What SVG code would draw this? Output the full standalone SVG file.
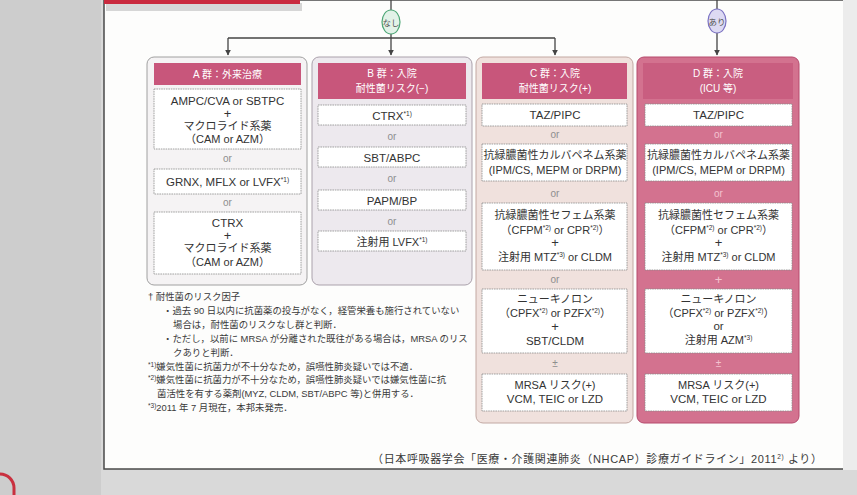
<svg xmlns="http://www.w3.org/2000/svg" width="857" height="495" viewBox="0 0 857 495">
<defs>
<style>
.t{font-family:"Liberation Sans","Noto Sans CJK JP",sans-serif;font-size:11.5px;fill:#333;text-anchor:middle}
.j{font-size:11px}
.h{fill:#fff;font-size:10px}
.or{fill:#8e8e8e;font-size:10px}
.orD{fill:#f3c3d0;font-size:10px}
.pl{font-size:13px}
.sup{font-size:6.5px}
.fn{font-family:"Liberation Sans","Noto Sans CJK JP",sans-serif;font-size:9.4px;fill:#3a3a3a;text-anchor:start}
.box{fill:#fff;stroke:#8a8a8a;stroke-width:0.8;stroke-dasharray:1.6 0.8}
.hdr{fill:#c8567b}
.conn{stroke:#444;stroke-width:1.3;fill:none}
</style>
<marker id="ah" viewBox="0 0 10 10" refX="9" refY="5" markerWidth="6" markerHeight="6" orient="auto" markerUnits="userSpaceOnUse">
<path d="M0,0 L10,5 L0,10 z" fill="#444"/>
</marker>
</defs>

<!-- background / page -->
<rect x="0" y="0" width="857" height="495" fill="#d9d9d9"/>
<rect x="0" y="0" width="101" height="495" fill="#cdcdcd"/>
<rect x="104" y="0" width="740" height="469" fill="#fdfdfc" stroke="#4a4a4a" stroke-width="1.5"/>
<rect x="843" y="0" width="14" height="470" fill="#ececec"/>
<rect x="106" y="3" width="196" height="8" fill="#bdbdbd" opacity="0.6"/>
<rect x="104" y="-2" width="196" height="6" fill="#c92a3e"/>
<path d="M0,474 A14,14 0 0 1 14,488 L14,495" fill="none" stroke="#c9303f" stroke-width="3"/>

<!-- connectors -->
<g id="connectors">
<line class="conn" x1="391" y1="0" x2="391" y2="10"/>
<line class="conn" x1="391" y1="34" x2="391" y2="38"/>
<line class="conn" x1="228" y1="38" x2="555" y2="38"/>
<line class="conn" x1="228" y1="38" x2="228" y2="55" marker-end="url(#ah)"/>
<line class="conn" x1="391" y1="38" x2="391" y2="55" marker-end="url(#ah)"/>
<line class="conn" x1="555" y1="38" x2="555" y2="55" marker-end="url(#ah)"/>
<line class="conn" x1="717" y1="0" x2="717" y2="9"/>
<line class="conn" x1="717" y1="33" x2="717" y2="55" marker-end="url(#ah)"/>
</g>

<g id="nashi">
<ellipse cx="391" cy="22" rx="9" ry="12" fill="#e2f2e8" stroke="#4ea776" stroke-width="1.2"/>
<text class="t" x="391" y="25.5" style="font-size:8.5px;fill:#555">なし</text>
</g>
<g id="ari">
<ellipse cx="717" cy="21" rx="9" ry="12" fill="#dddaf3" stroke="#7b72c2" stroke-width="1.2"/>
<text class="t" x="717" y="24.5" style="font-size:8.5px;fill:#555">あり</text>
</g>

<!-- Column A -->
<g id="groupA">
<rect x="147" y="57" width="160" height="228" rx="7" fill="#f5f3f4" stroke="#a0a0a0" stroke-width="1"/>
<rect class="hdr" x="154" y="63" width="147" height="22"/>
<text class="t h" x="227.5" y="78">A 群：外来治療</text>
<rect class="box" x="154" y="89" width="147" height="60"/>
<text class="t" x="227.5" y="105">AMPC/CVA or SBTPC</text>
<text class="t pl" x="227.5" y="118">+</text>
<text class="t j" x="227.5" y="130">マクロライド系薬</text>
<text class="t j" x="227.5" y="143">（CAM or AZM）</text>
<text class="t or" x="227.5" y="162">or</text>
<rect class="box" x="154" y="169" width="147" height="25"/>
<text class="t" x="227.5" y="186">GRNX, MFLX or LVFX<tspan class="sup" dy="-4">*1)</tspan></text>
<text class="t or" x="227.5" y="206">or</text>
<rect class="box" x="154" y="212" width="147" height="62"/>
<text class="t" x="227.5" y="227">CTRX</text>
<text class="t pl" x="227.5" y="240">+</text>
<text class="t j" x="227.5" y="252">マクロライド系薬</text>
<text class="t j" x="227.5" y="266">（CAM or AZM）</text>
</g>

<!-- Column B -->
<g id="groupB">
<rect x="312" y="57" width="160" height="228" rx="7" fill="#ede9ee" stroke="#aaa1ab" stroke-width="1"/>
<rect class="hdr" x="318" y="63" width="148" height="36"/>
<text class="t h" x="392" y="77">B 群：入院</text>
<text class="t h" x="392" y="92">耐性菌リスク(−)</text>
<rect class="box" x="318" y="105" width="148" height="20"/>
<text class="t" x="392" y="119.5">CTRX<tspan class="sup" dy="-4">*1)</tspan></text>
<text class="t or" x="392" y="140">or</text>
<rect class="box" x="318" y="147" width="148" height="20"/>
<text class="t" x="392" y="161.5">SBT/ABPC</text>
<text class="t or" x="392" y="182">or</text>
<rect class="box" x="318" y="190" width="148" height="20"/>
<text class="t" x="392" y="204.5">PAPM/BP</text>
<text class="t or" x="392" y="225">or</text>
<rect class="box" x="318" y="231" width="148" height="20"/>
<text class="t j" x="392" y="245.5">注射用 LVFX<tspan class="sup" dy="-4">*1)</tspan></text>
</g>

<!-- Column C -->
<g id="groupC">
<rect x="476" y="57" width="157" height="366" rx="7" fill="#f0e1dd" stroke="#c2a8a2" stroke-width="1"/>
<rect class="hdr" x="482" y="63" width="145" height="36"/>
<text class="t h" x="555" y="77">C 群：入院</text>
<text class="t h" x="555" y="92">耐性菌リスク(+)</text>
<rect class="box" x="482" y="104" width="145" height="22"/>
<text class="t" x="555" y="119">TAZ/PIPC</text>
<text class="t or" x="555" y="138">or</text>
<rect class="box" x="482" y="144" width="145" height="37"/>
<text class="t j" x="555" y="159">抗緑膿菌性カルバペネム系薬</text>
<text class="t j" x="555" y="174">(IPM/CS, MEPM or DRPM)</text>
<text class="t or" x="555" y="197">or</text>
<rect class="box" x="482" y="203" width="145" height="67"/>
<text class="t j" x="555" y="219">抗緑膿菌性セフェム系薬</text>
<text class="t j" x="555" y="234">（CFPM<tspan class="sup" dy="-4">*2)</tspan><tspan dy="4"> or CPR</tspan><tspan class="sup" dy="-4">*2)</tspan><tspan dy="4">）</tspan></text>
<text class="t pl" x="555" y="247">+</text>
<text class="t j" x="555" y="261">注射用 MTZ<tspan class="sup" dy="-4">*3)</tspan><tspan dy="4"> or CLDM</tspan></text>
<text class="t or" x="555" y="283">or</text>
<rect class="box" x="482" y="289" width="145" height="64"/>
<text class="t j" x="555" y="303">ニューキノロン</text>
<text class="t j" x="555" y="317">（CPFX<tspan class="sup" dy="-4">*2)</tspan><tspan dy="4"> or PZFX</tspan><tspan class="sup" dy="-4">*2)</tspan><tspan dy="4">）</tspan></text>
<text class="t pl" x="555" y="331">+</text>
<text class="t" x="555" y="345">SBT/CLDM</text>
<text class="t or" x="555" y="367">±</text>
<rect class="box" x="482" y="374" width="145" height="37"/>
<text class="t j" x="555" y="389">MRSA リスク(+)</text>
<text class="t" x="555" y="403">VCM, TEIC or LZD</text>
</g>

<!-- Column D -->
<g id="groupD">
<rect x="637" y="57" width="162" height="366" rx="7" fill="#d3728f" stroke="#b64a6d" stroke-width="1"/>
<rect x="643" y="63" width="150" height="36" fill="#c95e80"/>
<text class="t h" x="718" y="77">D 群：入院</text>
<text class="t h" x="718" y="92">(ICU 等)</text>
<rect class="box" x="645" y="104" width="147" height="22"/>
<text class="t" x="718.5" y="119">TAZ/PIPC</text>
<text class="t orD" x="718.5" y="138">or</text>
<rect class="box" x="645" y="144" width="147" height="37"/>
<text class="t j" x="718.5" y="159">抗緑膿菌性カルバペネム系薬</text>
<text class="t j" x="718.5" y="174">(IPM/CS, MEPM or DRPM)</text>
<text class="t orD" x="718.5" y="197">or</text>
<rect class="box" x="645" y="203" width="147" height="67"/>
<text class="t j" x="718.5" y="219">抗緑膿菌性セフェム系薬</text>
<text class="t j" x="718.5" y="234">（CFPM<tspan class="sup" dy="-4">*2)</tspan><tspan dy="4"> or CPR</tspan><tspan class="sup" dy="-4">*2)</tspan><tspan dy="4">）</tspan></text>
<text class="t pl" x="718.5" y="247">+</text>
<text class="t j" x="718.5" y="261">注射用 MTZ<tspan class="sup" dy="-4">*3)</tspan><tspan dy="4"> or CLDM</tspan></text>
<text class="t orD pl" x="718.5" y="284">+</text>
<rect class="box" x="645" y="289" width="147" height="64"/>
<text class="t j" x="718.5" y="303">ニューキノロン</text>
<text class="t j" x="718.5" y="317">（CPFX<tspan class="sup" dy="-4">*2)</tspan><tspan dy="4"> or PZFX</tspan><tspan class="sup" dy="-4">*2)</tspan><tspan dy="4">）</tspan></text>
<text class="t" x="718.5" y="330">or</text>
<text class="t j" x="718.5" y="344">注射用 AZM<tspan class="sup" dy="-4">*3)</tspan></text>
<text class="t orD" x="718.5" y="367">±</text>
<rect class="box" x="645" y="374" width="147" height="37"/>
<text class="t j" x="718.5" y="389">MRSA リスク(+)</text>
<text class="t" x="718.5" y="403">VCM, TEIC or LZD</text>
</g>

<!-- footnotes -->
<g id="footnotes">
<text class="fn" x="148" y="300">† 耐性菌のリスク因子</text>
<text class="fn" x="163" y="314">・過去 90 日以内に抗菌薬の投与がなく，経管栄養も施行されていない</text>
<text class="fn" x="173" y="328">場合は，耐性菌のリスクなし群と判断．</text>
<text class="fn" x="163" y="342">・ただし，以前に MRSA が分離された既往がある場合は，MRSA のリス</text>
<text class="fn" x="173" y="356">クありと判断．</text>
<text class="fn" x="148" y="370"><tspan class="sup" dy="-3">*1)</tspan><tspan dy="3">嫌気性菌に抗菌力が不十分なため，誤嚥性肺炎疑いでは不適．</tspan></text>
<text class="fn" x="148" y="383"><tspan class="sup" dy="-3">*2)</tspan><tspan dy="3">嫌気性菌に抗菌力が不十分なため，誤嚥性肺炎疑いでは嫌気性菌に抗</tspan></text>
<text class="fn" x="157" y="397">菌活性を有する薬剤(MYZ, CLDM, SBT/ABPC 等)と併用する．</text>
<text class="fn" x="148" y="411"><tspan class="sup" dy="-3">*3)</tspan><tspan dy="3">2011 年 7 月現在，本邦未発売．</tspan></text>
</g>

<g id="citation">
<text class="fn" x="372" y="463" style="font-size:11px" textLength="450" lengthAdjust="spacing">（日本呼吸器学会「医療・介護関連肺炎（NHCAP）診療ガイドライン」2011<tspan class="sup" dy="-4">2)</tspan><tspan dy="4"> より）</tspan></text>
</g>
</svg>
